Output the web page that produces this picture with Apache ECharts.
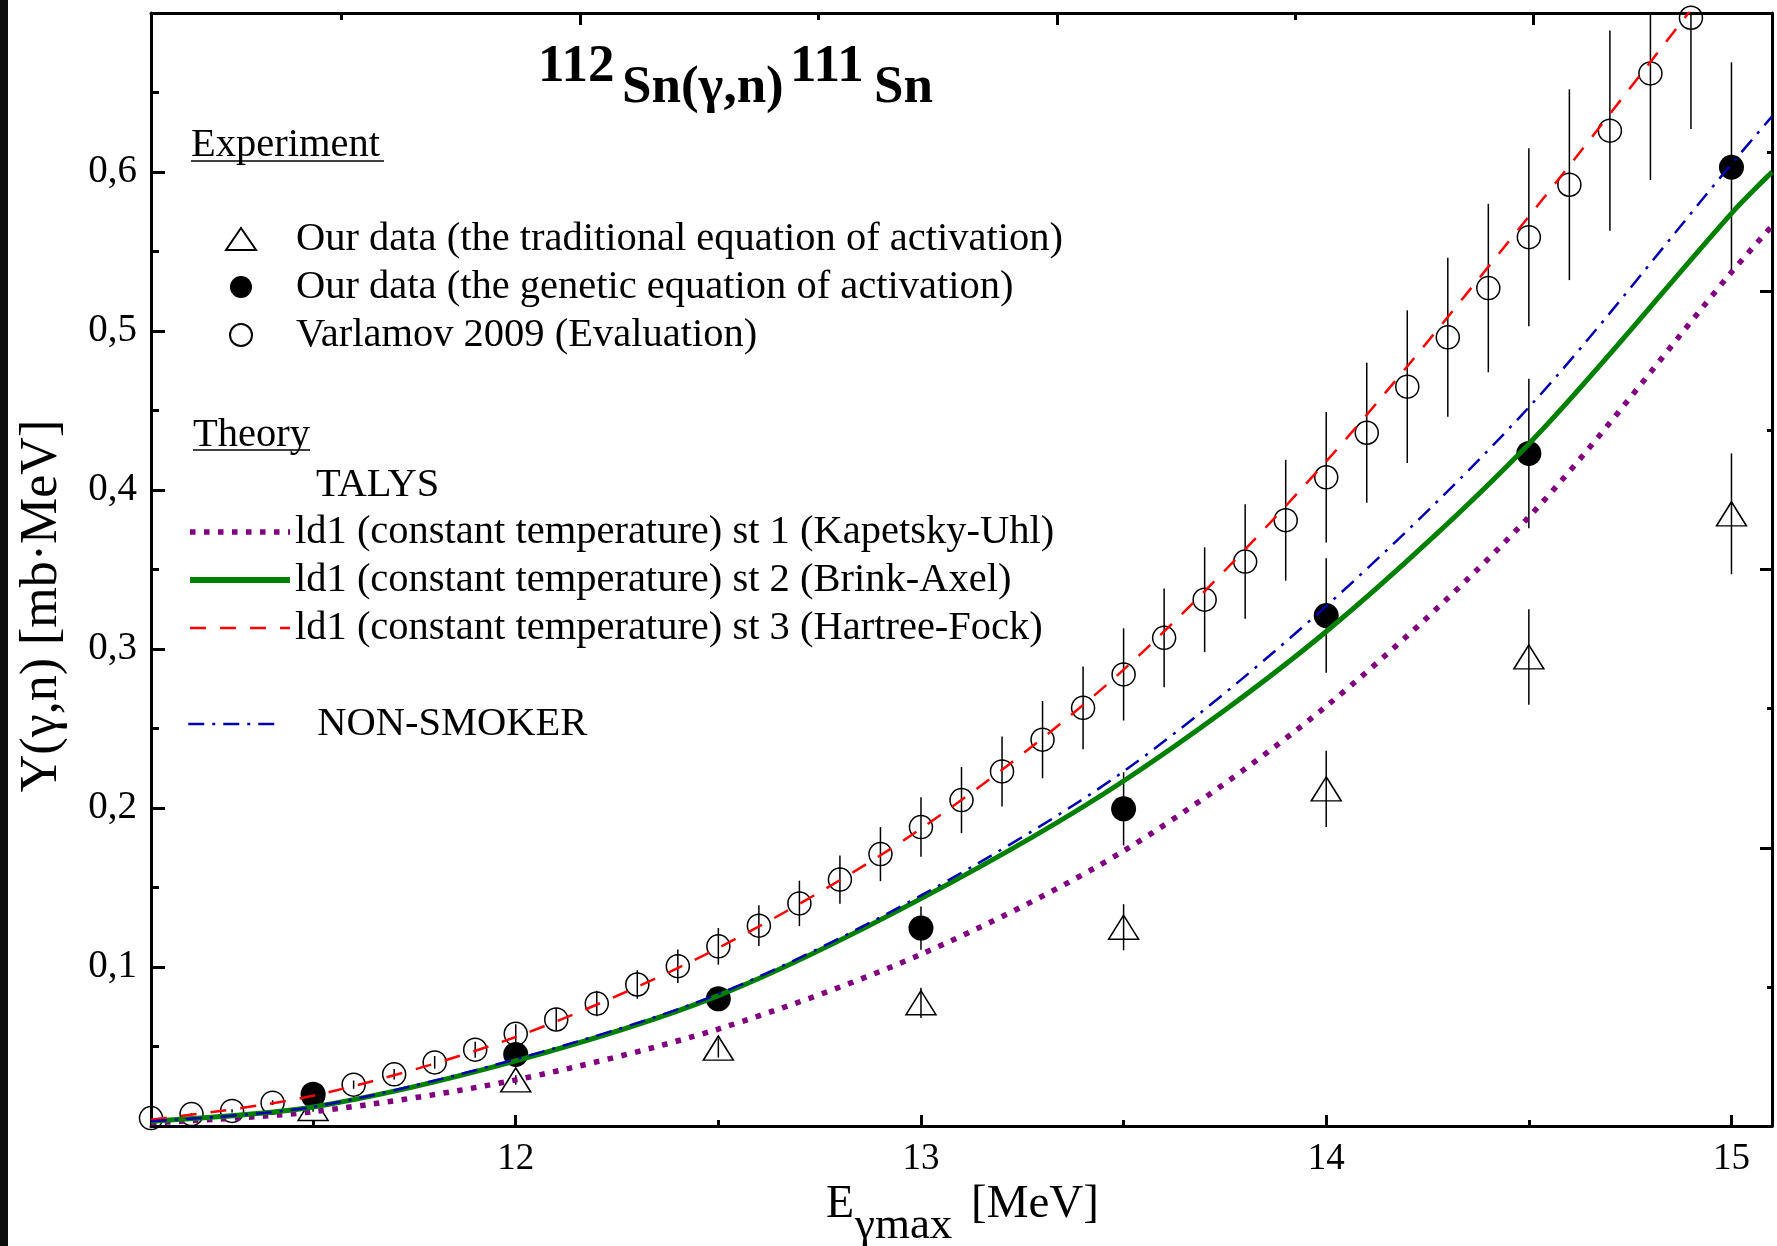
<!DOCTYPE html>
<html>
<head>
<meta charset="utf-8">
<script src="https://cdn.jsdelivr.net/npm/echarts@6/dist/echarts.min.js"></script>
<style>
  html, body { margin: 0; padding: 0; background: #fff; }
  #chart { width: 1777px; height: 1246px; }
</style>
</head>
<body>
<div id="chart"></div>
<script>
  const FONT = '"Liberation Serif", "Times New Roman", serif'

  // experiment: our data, 0.5 MeV steps
  const E_EXP = [11.5, 12, 12.5, 13, 13.5, 14, 14.5, 15]
  const Y_TRAD = [0.011, 0.029, 0.049, 0.0775, 0.125, 0.212, 0.295, 0.385]
  const ERR_TRAD = [0.002, 0.003, 0.006, 0.0095, 0.0145, 0.024, 0.03, 0.038]
  const Y_GEN = [0.020, 0.045, 0.080, 0.1245, 0.1995, 0.321, 0.423, 0.603]
  const ERR_GEN = [0.002, 0.004, 0.007, 0.0136, 0.023, 0.036, 0.047, 0.066]

  // Varlamov 2009 evaluation
  const E_VARL = [11.1, 11.2, 11.3, 11.4, 11.5, 11.6, 11.7, 11.8, 11.9, 12.0,
    12.1, 12.2, 12.3, 12.4, 12.5, 12.6, 12.7, 12.8, 12.9, 13.0,
    13.1, 13.2, 13.3, 13.4, 13.5, 13.6, 13.7, 13.8, 13.9, 14.0,
    14.1, 14.2, 14.3, 14.4, 14.5, 14.6, 14.7, 14.8, 14.9]
  const Y_VARL = [0.005, 0.0075, 0.0095, 0.0147, 0.019, 0.026, 0.0325, 0.040, 0.048, 0.058,
    0.067, 0.077, 0.089, 0.1005, 0.113, 0.126, 0.140, 0.155, 0.171, 0.188,
    0.205, 0.223, 0.243, 0.263, 0.284, 0.307, 0.331, 0.355, 0.381, 0.408,
    0.436, 0.465, 0.496, 0.527, 0.559, 0.592, 0.626, 0.662, 0.697]
  const ERR_VARL = [0.0005, 0.0007, 0.001, 0.0015, 0.002, 0.0026, 0.0033, 0.004, 0.005, 0.006,
    0.007, 0.008, 0.009, 0.0105, 0.0115, 0.0128, 0.0143, 0.0152, 0.017, 0.0187,
    0.0208, 0.022, 0.0243, 0.026, 0.029, 0.031, 0.033, 0.036, 0.038, 0.041,
    0.044, 0.048, 0.050, 0.053, 0.056, 0.060, 0.063, 0.067, 0.070]

  // theory
  const E_THEORY = [11.1, 11.5, 12, 12.5, 13, 13.5, 14, 14.5, 15, 15.1]
  const TALYS_ST1 = [0.002, 0.009, 0.029, 0.061, 0.108, 0.173, 0.264, 0.383, 0.537, 0.566]
  const TALYS_ST2 = [0.003, 0.012, 0.041, 0.082, 0.143, 0.217, 0.311, 0.429, 0.574, 0.600]
  const NON_SMOKER = [0.003, 0.012, 0.042, 0.083, 0.145, 0.223, 0.327, 0.452, 0.605, 0.635]
  const E_ST3 = [11.1, 11.5, 12, 12.5, 13, 13.5, 14, 14.5, 14.9]
  const TALYS_ST3 = [0.004, 0.019, 0.056, 0.112, 0.187, 0.287, 0.418, 0.572, 0.702]

  // ticks
  const X_TICKS = [12, 13, 14, 15]
  const X_MINOR = [11.5, 12.5, 13.5, 14.5]
  const Y_TICKS = [0.1, 0.2, 0.3, 0.4, 0.5, 0.6]
  const TOP_MAJOR = [1, 2, 3]
  const TOP_MINOR = [0.5, 1.5, 2.5]

  const NAME_TRAD = 'Our data (the traditional equation of activation)'
  const NAME_GEN = 'Our data (the genetic equation of activation)'
  const NAME_VARL = 'Varlamov 2009 (Evaluation)'
  const NAME_ST1 = 'ld1 (constant temperature) st 1 (Kapetsky-Uhl)'
  const NAME_ST2 = 'ld1 (constant temperature) st 2 (Brink-Axel)'
  const NAME_ST3 = 'ld1 (constant temperature) st 3 (Hartree-Fock)'
  const NAME_NS = 'NON-SMOKER'

  const pts = (xs, ys) => xs.map((x, i) => [x, ys[i]])
  const errPts = (xs, ys, es) => xs.map((x, i) => [x, ys[i], es[i]])

  function errorBar (params, api) {
    const x = api.value(0)
    const y = api.value(1)
    const e = api.value(2)
    const p1 = api.coord([x, y + e])
    const p2 = api.coord([x, y - e])
    return {
      type: 'line',
      shape: { x1: p1[0], y1: p1[1], x2: p2[0], y2: p2[1] },
      style: { stroke: '#000', lineWidth: 1.5 }
    }
  }

  const axisLineStyle = { color: '#000', width: 3 }
  const tickLine = { color: '#000', width: 3 }

  const hiddenAxis = {
    axisLine: { show: false },
    axisLabel: { show: false },
    splitLine: { show: false }
  }

  const legendText = { fontFamily: FONT, fontSize: 40.5, color: '#000', lineHeight: 48 }

  const option = {
    animation: false,
    backgroundColor: '#fff',
    grid: { left: 151, right: 5, top: 13, bottom: 120, containLabel: false },
    xAxis: [
      {
        type: 'value',
        position: 'bottom',
        min: 11.1,
        max: 15.1,
        axisLine: { show: true, lineStyle: axisLineStyle },
        axisTick: { inside: true, length: 11, lineStyle: tickLine, customValues: X_TICKS },
        axisLabel: { customValues: X_TICKS, fontFamily: FONT, fontSize: 37, color: '#000', margin: 15 },
        splitLine: { show: false }
      },
      {
        type: 'value',
        position: 'bottom',
        min: 11.1,
        max: 15.1,
        ...hiddenAxis,
        axisTick: { inside: true, length: 6, lineStyle: tickLine, customValues: X_MINOR }
      },
      {
        type: 'value',
        position: 'top',
        min: 0.1,
        max: 3.5,
        axisLine: { show: true, lineStyle: axisLineStyle },
        axisTick: { inside: true, length: 12, lineStyle: tickLine, customValues: TOP_MAJOR },
        axisLabel: { show: false },
        splitLine: { show: false }
      },
      {
        type: 'value',
        position: 'top',
        min: 0.1,
        max: 3.5,
        ...hiddenAxis,
        axisTick: { inside: true, length: 7, lineStyle: tickLine, customValues: TOP_MINOR }
      }
    ],
    yAxis: [
      {
        type: 'value',
        position: 'left',
        min: 0,
        max: 0.7,
        interval: 0.1,
        axisLine: { show: true, lineStyle: axisLineStyle },
        axisTick: { inside: true, length: 14, lineStyle: tickLine },
        minorTick: { show: true, splitNumber: 2, length: 8, lineStyle: tickLine },
        axisLabel: {
          customValues: Y_TICKS,
          formatter: v => v.toFixed(1).replace('.', ','),
          fontFamily: FONT,
          fontSize: 39,
          color: '#000',
          margin: 14
        },
        splitLine: { show: false },
        minorSplitLine: { show: false }
      },
      {
        type: 'value',
        position: 'right',
        min: 0,
        max: 4,
        interval: 1,
        axisLine: { show: true, lineStyle: axisLineStyle },
        axisTick: { inside: true, length: 12, lineStyle: tickLine },
        minorTick: { show: true, splitNumber: 2, length: 5, lineStyle: tickLine },
        axisLabel: { show: false },
        splitLine: { show: false },
        minorSplitLine: { show: false }
      }
    ],
    legend: [
      {
        data: [NAME_TRAD, NAME_GEN, NAME_VARL],
        orient: 'vertical',
        left: 225,
        top: 215,
        padding: 0,
        itemGap: 0,
        itemWidth: 30,
        itemHeight: 22,
        selectedMode: false,
        textStyle: { ...legendText, padding: [0, 0, 0, 35] }
      },
      {
        data: [
          { name: NAME_ST1, lineStyle: { width: 5.5 } },
          { name: NAME_ST2, lineStyle: { width: 6 } },
          { name: NAME_ST3, lineStyle: { width: 2.5 } }
        ],
        orient: 'vertical',
        left: 187,
        top: 508,
        padding: 0,
        itemGap: 0,
        itemWidth: 100,
        itemHeight: 14,
        selectedMode: false,
        itemStyle: { opacity: 0 },
        textStyle: legendText
      },
      {
        data: [{ name: NAME_NS, lineStyle: { width: 2.5 } }],
        orient: 'vertical',
        left: 187,
        top: 700,
        padding: 0,
        itemGap: 0,
        itemWidth: 90,
        itemHeight: 14,
        selectedMode: false,
        itemStyle: { opacity: 0 },
        textStyle: { ...legendText, padding: [0, 0, 0, 34] }
      }
    ],
    graphic: [
      { type: 'rect', shape: { x: 0, y: 0, width: 8, height: 1246 }, style: { fill: '#0d0d0d' } },
      // title
      { type: 'text', x: 538, y: 67, style: { text: '112', fontFamily: FONT, fontWeight: 'bold', fontSize: 53, fill: '#000', verticalAlign: 'middle' } },
      { type: 'text', x: 622, y: 88, style: { text: 'Sn(γ,n)', fontFamily: FONT, fontWeight: 'bold', fontSize: 53, fill: '#000', verticalAlign: 'middle' } },
      { type: 'text', x: 790, y: 67, style: { text: '111', fontFamily: FONT, fontWeight: 'bold', fontSize: 53, fill: '#000', verticalAlign: 'middle' } },
      { type: 'text', x: 874, y: 88, style: { text: 'Sn', fontFamily: FONT, fontWeight: 'bold', fontSize: 53, fill: '#000', verticalAlign: 'middle' } },
      // legend headers
      { type: 'text', x: 191, y: 145, style: { text: 'Experiment', fontFamily: FONT, fontSize: 40.5, fill: '#000', verticalAlign: 'middle' } },
      { type: 'line', shape: { x1: 191, y1: 161, x2: 384, y2: 161 }, style: { stroke: '#000', lineWidth: 1.5 } },
      { type: 'text', x: 193, y: 435, style: { text: 'Theory', fontFamily: FONT, fontSize: 40.5, fill: '#000', verticalAlign: 'middle' } },
      { type: 'line', shape: { x1: 193, y1: 450, x2: 310, y2: 450 }, style: { stroke: '#000', lineWidth: 1.5 } },
      { type: 'text', x: 316, y: 485, style: { text: 'TALYS', fontFamily: FONT, fontSize: 40.5, fill: '#000', verticalAlign: 'middle' } },
      // axis names
      { type: 'text', x: 42, y: 606, rotation: Math.PI / 2, style: { text: 'Y(γ,n) [mb·MeV]', fontFamily: FONT, fontSize: 52, fill: '#000', align: 'center', verticalAlign: 'middle' } },
      { type: 'text', x: 826, y: 1205, style: { text: 'E', fontFamily: FONT, fontSize: 46, fill: '#000', verticalAlign: 'middle' } },
      { type: 'text', x: 855, y: 1226, style: { text: 'γmax', fontFamily: FONT, fontSize: 45, fill: '#000', verticalAlign: 'middle' } },
      { type: 'text', x: 971, y: 1205, style: { text: '[MeV]', fontFamily: FONT, fontSize: 47, fill: '#000', verticalAlign: 'middle' } }
    ],
    series: [
      // error bars
      { type: 'custom', renderItem: errorBar, data: errPts(E_VARL, Y_VARL, ERR_VARL), encode: { x: 0, y: 1 }, clip: true, z: 2 },
      { type: 'custom', renderItem: errorBar, data: errPts(E_EXP, Y_TRAD, ERR_TRAD), encode: { x: 0, y: 1 }, clip: true, z: 2 },
      { type: 'custom', renderItem: errorBar, data: errPts(E_EXP, Y_GEN, ERR_GEN), encode: { x: 0, y: 1 }, clip: true, z: 2 },
      // markers
      {
        name: NAME_TRAD,
        type: 'scatter',
        data: pts(E_EXP, Y_TRAD),
        symbol: 'triangle',
        symbolSize: [30, 24],
        itemStyle: { color: 'rgba(0,0,0,0)', borderColor: '#000', borderWidth: 1.5, opacity: 1 },
        z: 3
      },
      {
        name: NAME_GEN,
        type: 'scatter',
        data: pts(E_EXP, Y_GEN),
        symbol: 'circle',
        symbolSize: 25,
        itemStyle: { color: '#000', borderWidth: 0, opacity: 1 },
        z: 3
      },
      {
        name: NAME_VARL,
        type: 'scatter',
        data: pts(E_VARL, Y_VARL),
        symbol: 'circle',
        symbolSize: 23,
        itemStyle: { color: 'rgba(0,0,0,0)', borderColor: '#000', borderWidth: 1.5, opacity: 1 },
        z: 3
      },
      // theory curves
      {
        name: NAME_ST1,
        type: 'line',
        data: pts(E_THEORY, TALYS_ST1),
        symbol: 'none',
        smooth: 0.3,
        color: '#800080',
        lineStyle: { color: '#800080', width: 5.5, type: [5.5, 8.5], cap: 'butt' },
        z: 4
      },
      {
        name: NAME_ST2,
        type: 'line',
        data: pts(E_THEORY, TALYS_ST2),
        symbol: 'none',
        smooth: 0.3,
        color: '#008000',
        lineStyle: { color: '#008000', width: 5 },
        z: 4
      },
      {
        name: NAME_ST3,
        type: 'line',
        data: pts(E_ST3, TALYS_ST3),
        symbol: 'none',
        smooth: 0.3,
        color: '#ff0000',
        lineStyle: { color: '#ff0000', width: 2.5, type: [16, 14] },
        z: 4
      },
      {
        name: NAME_NS,
        type: 'line',
        data: pts(E_THEORY, NON_SMOKER),
        symbol: 'none',
        smooth: 0.3,
        color: '#0000b0',
        lineStyle: { color: '#0000b0', width: 2.5, type: [16, 8, 3, 8] },
        z: 4
      }
    ]
  }

  const chart = echarts.init(document.getElementById('chart'))
  chart.setOption(option)
</script>
</body>
</html>
